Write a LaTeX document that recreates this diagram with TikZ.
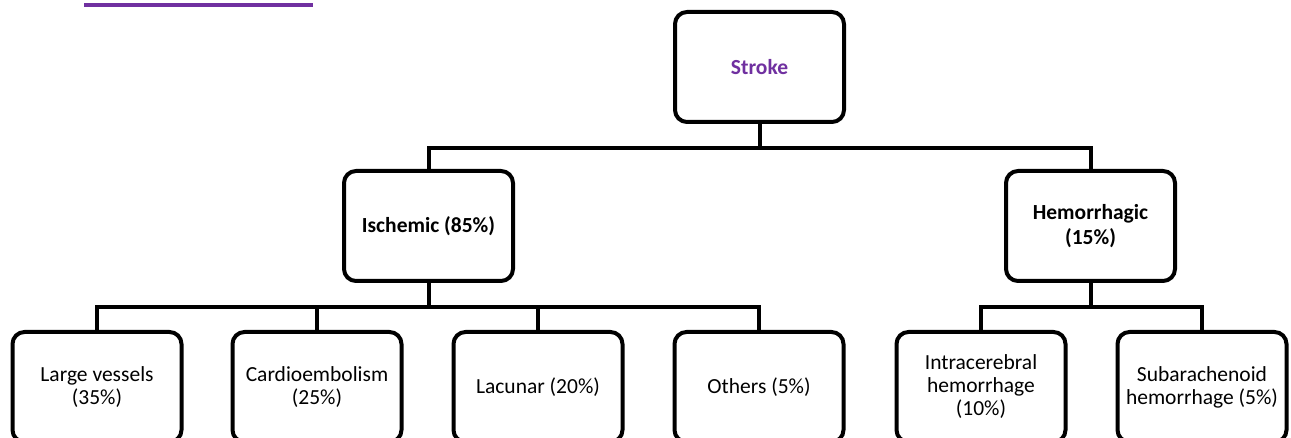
\documentclass[tikz,border=0pt]{standalone}
\usepackage{fontspec}
\setmainfont{Carlito}
\definecolor{strokepurple}{HTML}{7030A0}
\begin{document}
\begin{tikzpicture}[x=1pt,y=-1pt,
  box/.style={draw=black, line width=4pt, rounded corners=12pt, fill=white,
    minimum width=169pt, minimum height=110pt, align=center, inner sep=2pt,
    font=\fontsize{21.5}{23}\selectfont},
  topbox/.style={box, font=\fontsize{21.5}{24.5}\selectfont\bfseries},
  conn/.style={draw=black, line width=4pt, line join=miter}]
\clip (0,0) rectangle (1291,438);
\fill[strokepurple] (84,3) rectangle (313,7);
% top levels
\node[topbox, text=strokepurple] (stroke) at (759.5,67) {Stroke};
\node[topbox] (isch) at (428.5,226) {Ischemic (85\%)};
\node[topbox] (hem) at (1090.5,226) {Hemorrhagic\\(15\%)};
% bottom level
\node[box] (lv) at (97,387) {Large vessels\\(35\%)};
\node[box] (ce) at (317,387) {Cardioembolism\\(25\%)};
\node[box] (la) at (538,387) {Lacunar (20\%)};
\node[box] (ot) at (759,387) {Others (5\%)};
\node[box] (ic) at (981,387) {Intracerebral\\hemorrhage\\(10\%)};
\node[box] (sa) at (1202,387) {Subarachenoid\\hemorrhage (5\%)};
% connectors
\coordinate (b1) at (759.5,148);
\draw[conn] (stroke.south) -- (b1);
\draw[conn] (isch.north) |- (b1) -| (hem.north);
\coordinate (b2) at (428.5,307);
\draw[conn] (isch.south) -- (b2);
\draw[conn] (lv.north) |- (b2) -| (ot.north);
\draw[conn] (ce.north) -- (ce.north |- b2);
\draw[conn] (la.north) -- (la.north |- b2);
\coordinate (b3) at (1090.5,307);
\draw[conn] (hem.south) -- (b3);
\draw[conn] (ic.north) |- (b3) -| (sa.north);
\end{tikzpicture}
\end{document}
